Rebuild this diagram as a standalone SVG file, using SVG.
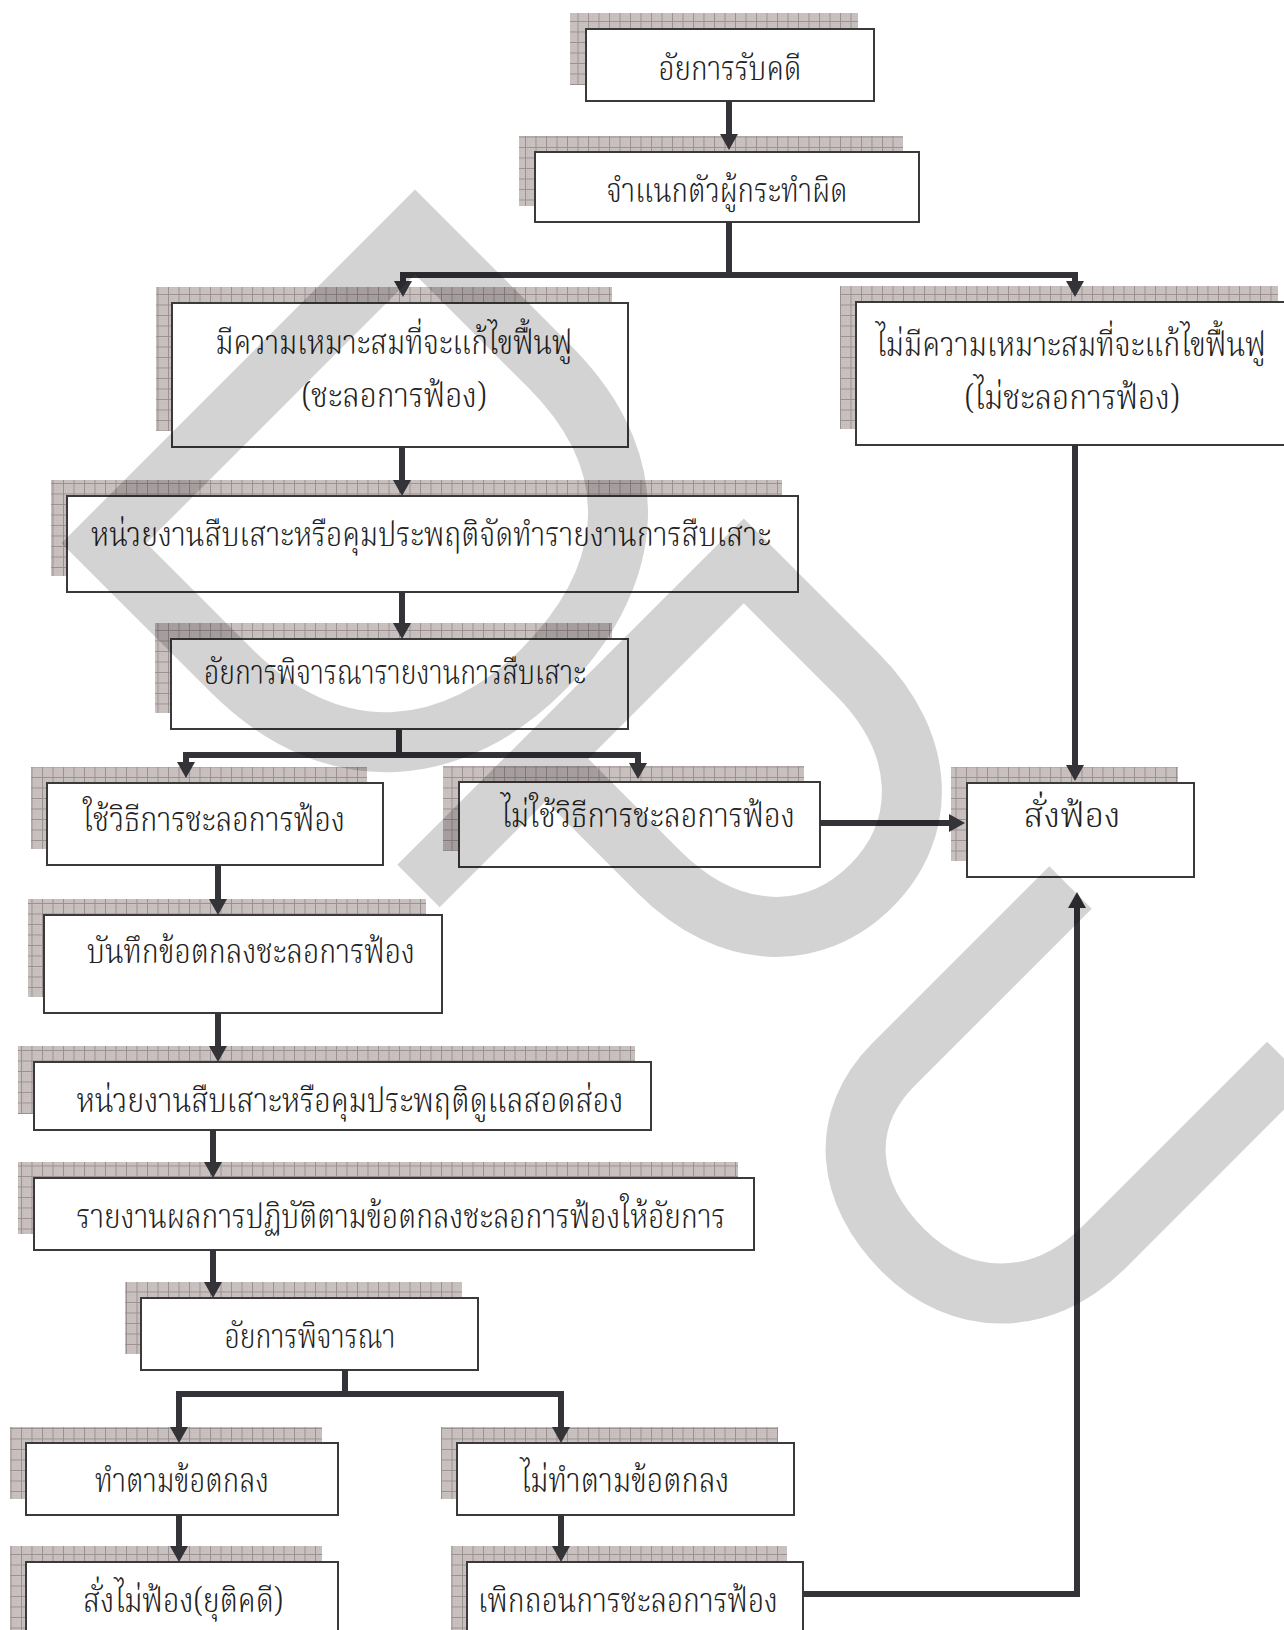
<svg xmlns="http://www.w3.org/2000/svg" width="1284" height="1630" viewBox="0 0 1284 1630">
<defs>
<pattern id="chk" width="2" height="2" patternUnits="userSpaceOnUse">
<rect width="2" height="2" fill="#d6cdcd"/>
<rect width="1" height="1" fill="#b7adad"/>
<rect x="1" y="1" width="1" height="1" fill="#c2b9b9"/>
</pattern>
<pattern id="grid" width="10.5" height="10.5" patternUnits="userSpaceOnUse">
<rect width="10.5" height="10.5" fill="url(#chk)"/>
<path d="M0 0.5H10.5M0.5 0V10.5" stroke="#9a9090" stroke-width="1"/>
</pattern>
<marker id="ah" viewBox="0 0 16 18" refX="4" refY="9" markerWidth="16" markerHeight="18" markerUnits="userSpaceOnUse" orient="auto-start-reverse">
<path d="M0,0 L16,9 L0,18 Z" fill="#333338"/>
</marker>
</defs>
<style>
.sh{fill:url(#grid)}
.bx{fill:#fff;stroke:#3a3a3a;stroke-width:2}
.t{font-family:"Noto Serif Thai","Noto Sans Thai","Noto Sans Thai Looped","Loma","Garuda","Norasi","Liberation Serif",serif;font-size:34px;font-weight:300;fill:#222;text-anchor:middle}
.c{fill:none;stroke:#333338;stroke-width:6;stroke-linejoin:miter}
.a{marker-end:url(#ah)}
.a2{marker-start:url(#ah);marker-end:url(#ah)}
</style>
<rect width="1284" height="1630" fill="#fff"/>

<g id="n1"><rect class="sh" x="570" y="13" width="288" height="72"/><rect class="bx" x="586" y="29" width="288" height="72"/><text class="t" x="730" y="80" textLength="143" lengthAdjust="spacingAndGlyphs">อัยการรับคดี</text></g>
<g id="n2"><rect class="sh" x="519" y="136" width="384" height="70"/><rect class="bx" x="535" y="152" width="384" height="70"/><text class="t" x="727" y="202" textLength="241" lengthAdjust="spacingAndGlyphs">จำแนกตัวผู้กระทำผิด</text></g>
<g id="n3"><rect class="sh" x="156" y="287" width="456" height="144"/><rect class="bx" x="172" y="303" width="456" height="144"/><text class="t" x="394" y="354" textLength="357" lengthAdjust="spacingAndGlyphs">มีความเหมาะสมที่จะแก้ไขฟื้นฟู</text><text class="t" x="394" y="407" textLength="185" lengthAdjust="spacingAndGlyphs">(ชะลอการฟ้อง)</text></g>
<g id="n4"><rect class="sh" x="840" y="286" width="438" height="143"/><rect class="bx" x="856" y="302" width="450" height="143"/><text class="t" x="1071" y="356" textLength="390" lengthAdjust="spacingAndGlyphs">ไม่มีความเหมาะสมที่จะแก้ไขฟื้นฟู</text><text class="t" x="1072" y="409" textLength="215" lengthAdjust="spacingAndGlyphs">(ไม่ชะลอการฟ้อง)</text></g>
<g id="n5"><rect class="sh" x="51" y="480" width="731" height="96"/><rect class="bx" x="67" y="496" width="731" height="96"/><text class="t" x="431" y="546" textLength="680" lengthAdjust="spacingAndGlyphs">หน่วยงานสืบเสาะหรือคุมประพฤติจัดทำรายงานการสืบเสาะ</text></g>
<g id="n6"><rect class="sh" x="155" y="623" width="457" height="90"/><rect class="bx" x="171" y="639" width="457" height="90"/><text class="t" x="395" y="684" textLength="382" lengthAdjust="spacingAndGlyphs">อัยการพิจารณารายงานการสืบเสาะ</text></g>
<g id="n7"><rect class="sh" x="31" y="767" width="336" height="82"/><rect class="bx" x="47" y="783" width="336" height="82"/><text class="t" x="214" y="831" textLength="262" lengthAdjust="spacingAndGlyphs">ใช้วิธีการชะลอการฟ้อง</text></g>
<g id="n8"><rect class="sh" x="443" y="766" width="361" height="85"/><rect class="bx" x="459" y="782" width="361" height="85"/><text class="t" x="648" y="827" textLength="294" lengthAdjust="spacingAndGlyphs">ไม่ใช้วิธีการชะลอการฟ้อง</text></g>
<g id="n10"><rect class="sh" x="951" y="767" width="227" height="94"/><rect class="bx" x="967" y="783" width="227" height="94"/><text class="t" x="1072" y="827" textLength="97" lengthAdjust="spacingAndGlyphs">สั่งฟ้อง</text></g>
<g id="n9"><rect class="sh" x="28" y="899" width="398" height="98"/><rect class="bx" x="44" y="915" width="398" height="98"/><text class="t" x="251" y="963" textLength="328" lengthAdjust="spacingAndGlyphs">บันทึกข้อตกลงชะลอการฟ้อง</text></g>
<g id="n11"><rect class="sh" x="18" y="1046" width="617" height="68"/><rect class="bx" x="34" y="1062" width="617" height="68"/><text class="t" x="350" y="1112" textLength="547" lengthAdjust="spacingAndGlyphs">หน่วยงานสืบเสาะหรือคุมประพฤติดูแลสอดส่อง</text></g>
<g id="n12"><rect class="sh" x="18" y="1162" width="720" height="72"/><rect class="bx" x="34" y="1178" width="720" height="72"/><text class="t" x="401" y="1228" textLength="649" lengthAdjust="spacingAndGlyphs">รายงานผลการปฏิบัติตามข้อตกลงชะลอการฟ้องให้อัยการ</text></g>
<g id="n13"><rect class="sh" x="125" y="1282" width="337" height="72"/><rect class="bx" x="141" y="1298" width="337" height="72"/><text class="t" x="310" y="1348" textLength="171" lengthAdjust="spacingAndGlyphs">อัยการพิจารณา</text></g>
<g id="n14"><rect class="sh" x="10" y="1427" width="312" height="72"/><rect class="bx" x="26" y="1443" width="312" height="72"/><text class="t" x="182" y="1492" textLength="174" lengthAdjust="spacingAndGlyphs">ทำตามข้อตกลง</text></g>
<g id="n15"><rect class="sh" x="441" y="1427" width="337" height="72"/><rect class="bx" x="457" y="1443" width="337" height="72"/><text class="t" x="625" y="1492" textLength="209" lengthAdjust="spacingAndGlyphs">ไม่ทำตามข้อตกลง</text></g>
<g id="n16"><rect class="sh" x="10" y="1546" width="312" height="100"/><rect class="bx" x="26" y="1562" width="312" height="100"/><text class="t" x="183" y="1612" textLength="200" lengthAdjust="spacingAndGlyphs">สั่งไม่ฟ้อง(ยุติคดี)</text></g>
<g id="n17"><rect class="sh" x="451" y="1546" width="336" height="100"/><rect class="bx" x="467" y="1562" width="336" height="100"/><text class="t" x="628" y="1612" textLength="300" lengthAdjust="spacingAndGlyphs">เพิกถอนการชะลอการฟ้อง</text></g>

<g id="connectors">
<path class="c a" d="M729,101 V138"/>
<path class="c" d="M729,222 V275"/>
<path class="c a2" d="M403,285 V275 H1075 V285"/>
<path class="c a" d="M402,447 V484"/>
<path class="c a" d="M402,592 V627"/>
<path class="c" d="M399,729 V755"/>
<path class="c a2" d="M186,766 V755 H638 V767"/>
<path class="c a" d="M820,823 H953"/>
<path class="c a" d="M1075,445 V769"/>
<path class="c a" d="M218,865 V903"/>
<path class="c a" d="M218,1013 V1050"/>
<path class="c a" d="M213,1130 V1166"/>
<path class="c a" d="M213,1250 V1286"/>
<path class="c" d="M345,1370 V1394"/>
<path class="c a2" d="M179,1431 V1394 H561 V1431"/>
<path class="c a" d="M179,1515 V1550"/>
<path class="c a" d="M561,1515 V1550"/>
<path class="c a" d="M803,1594 H1077 V904"/>
</g>

<g id="watermark" opacity="0.17" fill="none" stroke="#000" stroke-width="60" stroke-linejoin="miter">
<g transform="translate(415,232) rotate(45)">
<path d="M0,0 V440 M-30,0 H190 C340,0 400,100 400,220 C400,340 330,440 180,440 H-30"/>
<path d="M465,460 V0 H625 C725,0 785,60 785,140 C785,220 725,280 625,280 H465"/>
<path d="M927,0 V250 C927,330 985,375 1065,375 C1145,375 1205,320 1205,230 V-30"/>
</g>
</g>
</svg>
